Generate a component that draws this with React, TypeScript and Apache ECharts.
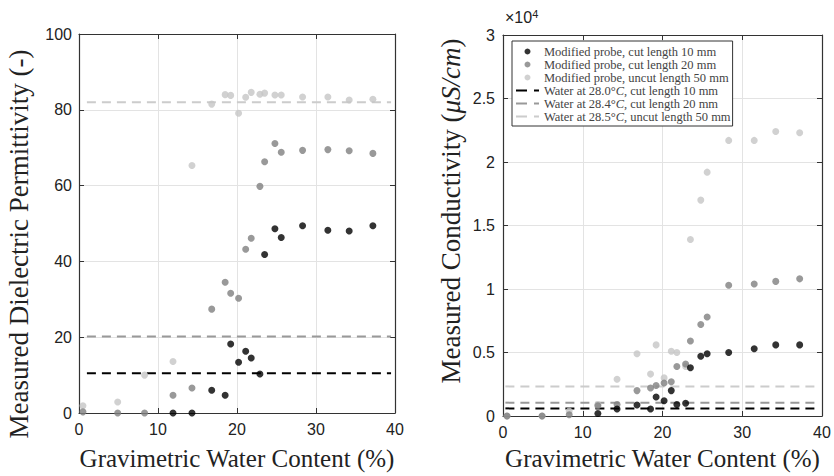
import React, { useEffect, useRef } from "react";
import * as echarts from "echarts";

// Gravimetric water content (%) of each sample
const waterContent = [0.5, 4.9, 8.3, 11.9, 14.3, 16.8, 18.5, 19.2, 20.2, 21.1, 21.8, 22.9, 23.5, 24.8, 25.6, 28.3, 31.5, 34.2, 37.2];

// Measured dielectric permittivity (-)
const permCut10: (number | null)[] = [null, null, null, 0, 0, 6, 4.7, 18.2, 13.4, 16.3, 14.5, 10.3, 41.8, 48.6, 46.3, 49.4, 48.2, 48, 49.4];
const permCut20: (number | null)[] = [0.3, 0, 0, 4.7, 6.6, 27.4, 34.5, 31.6, 30.3, 43.2, 46.1, 59.8, 66.3, 71.1, 68.8, 69.3, 69.5, 69.2, 68.5];
const permUncut50: (number | null)[] = [1.9, 2.9, 10, 13.6, 65.3, 81.5, 84, 83.8, 79.1, 83.3, 84.6, 84.1, 84.4, 83.9, 83.9, 83.4, 83.4, 82.6, 82.8];

// Measured conductivity (uS/cm)
const condCut10: (number | null)[] = [null, null, null, 200, 550, 860, 550, 1500, 1200, 2000, 900, 1000, 3800, 4700, 4900, 5000, 5300, 5600, 5600];
const condCut20: (number | null)[] = [0, 0, 100, 800, 900, 2000, 2200, 2400, 2600, 2700, 3900, 4100, 5900, 7200, 7800, 10300, 10400, 10600, 10800];
const condUncut50: (number | null)[] = [0, 0, 400, 900, 2900, 4900, 3300, 5600, 3000, 5100, 5000, 3900, 13900, 17000, 19200, 21700, 21700, 22400, 22300];

// Reference values for water (cut 10, cut 20, uncut 50)
const waterPermittivity = [10.5, 20.2, 82];
const waterConductivity = [600, 1050, 2330];
const waterLineSpanLeft = [1, 39.5];
const waterLineSpanRight = [0.3, 39.7];

const probeNames = [
  "Modified probe, cut length 10 mm",
  "Modified probe, cut length 20 mm",
  "Modified probe, uncut length 50 mm",
];
const waterNames = [
  "Water at 28.0°C, cut length 10 mm",
  "Water at 28.4°C, cut length 20 mm",
  "Water at 28.5°C, uncut length 50 mm",
];
const waterNamesRich = [
  "Water at 28.0°{i|C}, cut length 10 mm",
  "Water at 28.4°{i|C}, cut length 20 mm",
  "Water at 28.5°{i|C}, uncut length 50 mm",
];

const xTitle = "Gravimetric Water Content (%)";
const permTitle = "Measured Dielectric Permittivity (-)";
const condTitleRich = "Measured Conductivity ({i|μS/cm})";

const xTicks = { min: 0, max: 40, interval: 10 };
const permTicks = { min: 0, max: 100, interval: 20 };
const condTicks = { min: 0, max: 30000, interval: 5000 };

const probeColors = ["#000000", "#7f7f7f", "#c6c6c6"];
const waterColors = ["#000000", "#999999", "#cccccc"];

const pairs = (xs: number[], ys: (number | null)[]) =>
  xs.map((x, i) => (ys[i] == null ? null : [x, ys[i] as number])).filter((p) => p !== null);

const axisColor = "#333333";
const labelFont = "'Liberation Sans', Arial, sans-serif";
const serifFont = "'Liberation Serif', 'Times New Roman', serif";

export default function App() {
  const ref = useRef<HTMLDivElement>(null);
  useEffect(() => {
    if (!ref.current) return;
    const chart = echarts.init(ref.current, null, { renderer: "svg" });

    const mainX = (gridIndex: number, gap: number) => ({
      type: "value",
      gridIndex,
      ...xTicks,
      position: "bottom",
      name: xTitle,
      nameLocation: "middle",
      nameGap: gap,
      nameTextStyle: { fontFamily: serifFont, fontSize: 25, color: "#222" },
      axisLine: { show: true, onZero: false, lineStyle: { color: axisColor, width: 1.2 } },
      axisTick: { show: true, inside: true, length: 5, lineStyle: { color: axisColor } },
      axisLabel: { fontFamily: labelFont, fontSize: 16, color: "#222", margin: 8 },
      splitLine: { show: true, lineStyle: { color: "#e3e3e3", width: 1 } },
    });
    const mirrorX = (gridIndex: number) => ({
      type: "value",
      gridIndex,
      ...xTicks,
      position: "top",
      axisLine: { show: true, onZero: false, lineStyle: { color: axisColor, width: 1.2 } },
      axisTick: { show: true, inside: true, length: 5, lineStyle: { color: axisColor } },
      axisLabel: { show: false },
      splitLine: { show: false },
    });
    const mirrorY = (gridIndex: number, ticks: any) => ({
      type: "value",
      gridIndex,
      ...ticks,
      position: "right",
      axisLine: { show: true, onZero: false, lineStyle: { color: axisColor, width: 1.2 } },
      axisTick: { show: true, inside: true, length: 5, lineStyle: { color: axisColor } },
      axisLabel: { show: false },
      splitLine: { show: false },
    });

    const scatterSeries = (xi: number, yi: number, values: (number | null)[][]) =>
      [2, 1, 0].map((k) => ({
        type: "scatter",
        name: probeNames[k],
        xAxisIndex: xi,
        yAxisIndex: yi,
        data: pairs(waterContent, values[k]),
        symbol: "circle",
        symbolSize: 7,
        itemStyle: { color: probeColors[k] },
        z: 3,
      }));
    const waterSeries = (xi: number, yi: number, levels: number[], span: number[]) =>
      [0, 1, 2].map((k) => ({
        type: "line",
        name: waterNames[k],
        xAxisIndex: xi,
        yAxisIndex: yi,
        data: [
          [span[0], levels[k]],
          [span[1], levels[k]],
        ],
        symbol: "none",
        lineStyle: { color: waterColors[k], width: 2, type: [9, 6] },
        itemStyle: { color: waterColors[k] },
        z: 2,
      }));

    chart.setOption({
      animation: false,
      backgroundColor: "#ffffff",
      grid: [
        { left: 79, top: 34, width: 316, height: 380 },
        { left: 503, top: 35, width: 319, height: 382 },
      ],
      xAxis: [mainX(0, 33), mirrorX(0), mainX(1, 30), mirrorX(1)],
      yAxis: [
        {
          type: "value",
          gridIndex: 0,
          ...permTicks,
          position: "left",
          axisLine: { show: true, onZero: false, lineStyle: { color: axisColor, width: 1.2 } },
          axisTick: { show: true, inside: true, length: 5, lineStyle: { color: axisColor } },
          axisLabel: { fontFamily: labelFont, fontSize: 16, color: "#222", margin: 7 },
          splitLine: { show: true, lineStyle: { color: "#e3e3e3", width: 1 } },
        },
        mirrorY(0, permTicks),
        {
          type: "value",
          gridIndex: 1,
          ...condTicks,
          position: "left",
          axisLine: { show: true, onZero: false, lineStyle: { color: axisColor, width: 1.2 } },
          axisTick: { show: true, inside: true, length: 5, lineStyle: { color: axisColor } },
          axisLabel: {
            fontFamily: labelFont,
            fontSize: 16,
            color: "#222",
            margin: 8,
            formatter: (v: number) => String(v / 10000),
          },
          splitLine: { show: true, lineStyle: { color: "#e3e3e3", width: 1 } },
        },
        mirrorY(1, condTicks),
      ],
      legend: {
        orient: "vertical",
        left: 512,
        top: 41,
        padding: [4, 2, 3, 3],
        itemGap: 0,
        itemWidth: 23,
        itemHeight: 6,
        borderColor: "#333",
        borderWidth: 1,
        borderRadius: 0,
        backgroundColor: "#ffffff",
        data: [
          ...probeNames.map((n) => ({ name: n, icon: "circle" })),
          ...waterNames.map((n) => ({
            name: n,
            itemStyle: { opacity: 0 },
            lineStyle: { type: [11, 7], width: 2 },
          })),
        ],
        formatter: (name: string) => {
          const k = waterNames.indexOf(name);
          return k >= 0 ? waterNamesRich[k] : name;
        },
        textStyle: {
          fontFamily: serifFont,
          fontSize: 12.5,
          lineHeight: 12,
          color: "#444",
          rich: { i: { fontFamily: serifFont, fontSize: 12.5, lineHeight: 12, fontStyle: "italic", color: "#444" } },
        },
      },
      graphic: [
        {
          type: "text",
          left: 505,
          top: 8,
          style: {
            text: "×10{s|4}",
            fontFamily: labelFont,
            fontSize: 16,
            fill: "#222",
            rich: { s: { fontFamily: labelFont, fontSize: 11, fill: "#222", verticalAlign: "top", padding: [0, 0, 8, 0] } },
          },
        },
        {
          type: "text",
          x: 19,
          y: 244,
          rotation: Math.PI / 2,
          style: {
            text: permTitle,
            fontFamily: serifFont,
            fontSize: 27,
            fill: "#222",
            align: "center",
            verticalAlign: "middle",
          },
        },
        {
          type: "text",
          x: 451,
          y: 211,
          rotation: Math.PI / 2,
          style: {
            text: condTitleRich,
            fontFamily: serifFont,
            fontSize: 27,
            fill: "#222",
            align: "center",
            verticalAlign: "middle",
            rich: { i: { fontFamily: serifFont, fontSize: 27, fontStyle: "italic", fill: "#222" } },
          },
        },
      ],
      series: [
        ...waterSeries(0, 0, waterPermittivity, waterLineSpanLeft),
        ...waterSeries(2, 2, waterConductivity, waterLineSpanRight),
        ...scatterSeries(0, 0, [permCut10, permCut20, permUncut50]),
        ...scatterSeries(2, 2, [condCut10, condCut20, condUncut50]),
      ],
    });
    return () => chart.dispose();
  }, []);
  return <div ref={ref} style={{ position: "absolute", left: 0, top: 0, width: 834, height: 476 }} />;
}
